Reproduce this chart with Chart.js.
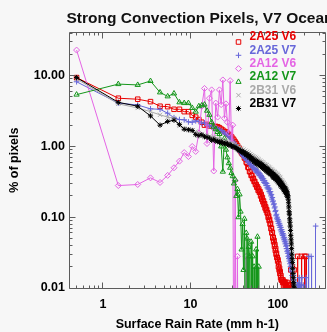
<!DOCTYPE html>
<html>
<head>
<meta charset="utf-8">
<script src="https://cdn.jsdelivr.net/npm/chart.js@4/dist/chart.umd.min.js"></script>
<style>
  html, body { margin: 0; padding: 0; background: #f7f7f7; overflow: hidden; width: 327px; height: 332px; }
  #wrap { position: relative; width: 330px; height: 332px; }
  canvas { display: block; }
</style>
</head>
<body>
<div id="wrap"><canvas id="c" width="330" height="332"></canvas></div>
<script>
// Rain-rate histogram bins, 1 mm/h wide; points sit at the bin centres.
const BIN_WIDTH = 1;
const BIN_COUNT = 272;
const rainRate = Array.from({ length: BIN_COUNT }, (_, i) => (i + 0.5) * BIN_WIDTH);

const xTickValues = [1, 10, 100];
const xTickLabels = ['1', '10', '100'];
const yTickValues = [0.01, 0.1, 1, 10];
const yTickLabels = ['0.01', '0.10', '1.00', '10.00'];

// Percentage of strong-convection pixels per rain-rate bin (0 = no pixels in the bin).
const pct2A25V6 = [
  9.4,4.8,4.65,4.3,3.7,3.65,3.35,3.35,3.1,3.1,
  2.75,2.6,2.4,2.2,2.0,2.05,1.95,1.95,1.9,1.92,
  1.9,1.84,1.76,1.7,1.63,1.6,1.52,1.47,1.43,1.37,
  1.3,1.23,1.16,1.1,1.03,0.97,0.92,0.86,0.81,0.78,
  0.76,0.69,0.67,0.6,0.58,0.51,0.5,0.44,0.44,0.39,
  0.39,0.35,0.355,0.32,0.32,0.29,0.29,0.265,0.27,0.24,
  0.25,0.225,0.23,0.2,0.21,0.18,0.19,0.165,0.17,0.15,
  0.155,0.135,0.14,0.125,0.128,0.115,0.115,0.1,0.104,0.09,
  0.093,0.08,0.082,0.069,0.07,0.06,0.061,0.051,0.052,0.045,
  0.047,0.039,0.041,0.034,0.036,0.03,0.031,0.027,0.027,0.024,
  0.025,0.02,0.022,0.018,0.019,0.016,0.017,0.014,0.015,0.013,
  0.013,0.013,0,0.012,0.013,0.012,0,0.012,0.012,0,
  0.012,0,0.012,0,0.011,0,0,0.012,0,0,
  0.011,0,0,0,0.011,0,0,0,0,0,
  0.018,0,0,0,0,0,0.02,0,0,0,
  0,0,0,0.018,0,0,0,0,0,0,
  0,0,0,0,0,0,0,0,0.028,0,
  0,0,0,0,0,0,0,0,0,0,
  0,0,0,0,0,0.028,0,0,0,0,
  0,0,0,0,0,0,0,0,0,0,
  0,0,0.028,0,0,0,0,0,0,0,
  0.028,0
];

const pct2A25V7 = [
  8.2,4.1,3.85,3.4,3.35,2.95,2.55,2.4,2.38,2.22,
  2.2,2.3,2.25,2.12,2.15,2.02,1.96,1.9,1.86,1.82,
  1.78,1.72,1.68,1.6,1.55,1.5,1.44,1.4,1.32,1.26,
  1.18,1.12,1.06,1.0,0.96,0.9,0.86,0.82,0.78,0.75,
  0.73,0.69,0.68,0.64,0.64,0.6,0.61,0.56,0.57,0.53,
  0.54,0.5,0.51,0.47,0.49,0.45,0.47,0.43,0.45,0.41,
  0.43,0.39,0.41,0.37,0.39,0.35,0.37,0.33,0.35,0.31,
  0.33,0.3,0.31,0.28,0.3,0.26,0.28,0.25,0.26,0.23,
  0.25,0.22,0.23,0.2,0.21,0.18,0.19,0.165,0.17,0.15,
  0.155,0.135,0.14,0.12,0.125,0.105,0.11,0.095,0.1,0.088,
  0.093,0.082,0.088,0.077,0.082,0.072,0.077,0.066,0.072,0.062,
  0.067,0.058,0.063,0.055,0.059,0.051,0.056,0.048,0.052,0.045,
  0.049,0.042,0.046,0.039,0.043,0.036,0.04,0.033,0.036,0.031,
  0.034,0.028,0.031,0.026,0.029,0.024,0.027,0.022,0.025,0.02,
  0.023,0.018,0.021,0.017,0.019,0.015,0.018,0.014,0.016,0.013,
  0.015,0.013,0,0.013,0.012,0,0.012,0.011,0,0.012,
  0.011,0,0.011,0,0,0.011,0,0.011,0,0,
  0,0,0.011,0,0,0.014,0,0,0.011,0,
  0,0,0,0.011,0,0,0,0,0.014,0,
  0,0,0,0,0,0.011,0,0,0,0,
  0,0,0,0,0,0,0,0,0,0,
  0.014,0,0,0,0,0,0,0,0,0,
  0,0,0,0,0,0,0.028,0,0,0,
  0,0,0,0,0,0,0,0,0,0,
  0.028,0,0,0,0,0,0,0,0,0,
  0,0,0,0,0,0,0,0,0,0,
  0,0,0,0,0,0,0,0,0,0,
  0.075,0
];

const pct2A12V6 = [
  23,0.28,0.29,0.36,0.31,0.39,0.5,0.62,0.82,0.72,
  1.0,0.85,1.55,3.7,6.6,1.1,4.8,6.3,0.45,4.1,
  2.6,6.3,3.9,8.7,2.5,4.0,2.2,1.55,8.5,1.13,
  2.0,0,0.33,0,0.028,0,0,0,0,0,
  0,0,0,0.028,0
];

const pct2A12V7 = [
  5.4,7.6,7.4,8.4,5.8,5.1,5.6,4.2,4.1,4.1,
  3.5,3.1,3.7,3.8,3.9,3.2,2.8,2.2,1.9,1.75,
  1.6,1.5,1.0,0.44,1.3,0.9,0.7,0.58,0.5,0.42,
  0.38,0.3,0.34,0.2,0.25,0.1,0.21,0.12,0.035,0.08,
  0.018,0.095,0,0.06,0.05,0,0.038,0.028,0,0.045,
  0,0.028,0,0.02,0,0,0.035,0,0.053,0,
  0.02,0
];

const pct2B31V6 = [
  9.0,4.0,3.5,3.1,2.8,2.6,2.5,1.95,1.8,1.75,
  1.7,1.62,1.55,1.5,1.44,1.42,1.38,1.33,1.35,1.29,
  1.28,1.25,1.22,1.24,1.19,1.17,1.15,1.16,1.11,1.1,
  1.08,1.04,1.06,1.0,1.01,0.96,0.97,0.92,0.93,0.88,
  0.9,0.85,0.87,0.82,0.84,0.79,0.81,0.76,0.78,0.73,
  0.75,0.7,0.73,0.68,0.71,0.66,0.69,0.64,0.67,0.62,
  0.65,0.6,0.63,0.58,0.61,0.56,0.6,0.55,0.58,0.53,
  0.56,0.52,0.55,0.5,0.54,0.49,0.52,0.48,0.51,0.46,
  0.5,0.45,0.48,0.44,0.47,0.43,0.46,0.41,0.45,0.4,
  0.44,0.39,0.43,0.38,0.42,0.37,0.41,0.36,0.4,0.35,
  0.39,0.34,0.38,0.33,0.37,0.32,0.36,0.31,0.34,0.3,
  0.33,0.29,0.32,0.28,0.31,0.27,0.3,0.26,0.29,0.25,
  0.28,0.24,0.27,0.23,0.26,0.22,0.25,0.21,0.23,0.2,
  0.19,0.17,0.16,0.14,0.13,0.12,0.1,0.09,0.08,0.07,
  0.062,0.055,0.048,0.042,0.036,0.031,0.027,0.023,0.02,0.017,
  0.015,0.013,0.012,0.011,0,0.011,0,0.01,0
];

const pct2B31V7 = [
  9.4,4.2,3.7,2.7,2.0,2.25,2.35,2.05,1.75,1.72,
  1.68,1.47,1.42,1.46,1.37,1.35,1.31,1.22,1.26,1.19,
  1.18,1.14,1.17,1.11,1.09,1.12,1.07,1.04,1.06,1.01,
  0.99,1.0,0.96,0.95,0.91,0.9,0.87,0.88,0.83,0.84,
  0.84,0.78,0.81,0.75,0.78,0.72,0.75,0.69,0.72,0.66,
  0.68,0.63,0.66,0.6,0.64,0.58,0.62,0.57,0.61,0.55,
  0.59,0.54,0.58,0.52,0.56,0.51,0.55,0.49,0.53,0.48,
  0.52,0.47,0.5,0.45,0.49,0.44,0.48,0.43,0.47,0.42,
  0.45,0.41,0.44,0.4,0.43,0.39,0.42,0.37,0.41,0.36,
  0.4,0.36,0.39,0.35,0.38,0.34,0.37,0.33,0.36,0.32,
  0.35,0.31,0.34,0.3,0.33,0.29,0.32,0.28,0.31,0.27,
  0.3,0.27,0.29,0.26,0.28,0.25,0.27,0.24,0.26,0.23,
  0.26,0.23,0.25,0.22,0.24,0.21,0.23,0.2,0.22,0.2,
  0.2,0.18,0.16,0.14,0.12,0.11,0.095,0.085,0.075,0.065,
  0.055,0.048,0.042,0.036,0.03,0.026,0.023,0.019,0.016,0.014,
  0.012,0.011,0.01,0,0.01,0
];

const FONT = "'Liberation Sans', Arial, Helvetica, sans-serif";
const AXIS_COLOR = '#5c5c5c';
const BG = '#f7f7f7';
// Empty bins have no finite log value; they are sent below the axis floor so
// the trace drops off the bottom of the plot, as a log plot of zero does.
const ZERO_FLOOR = 1e-4;

const series = [
  { label: '2A25 V6', values: pct2A25V6, color: '#e80000', marker: 'rect',     radius: 3.2, order: 5 },
  { label: '2A25 V7', values: pct2A25V7, color: '#6767d9', marker: 'cross',    radius: 2.8, order: 4 },
  { label: '2A12 V6', values: pct2A12V6, color: '#e464e4', marker: 'rectRot',  radius: 3.0, order: 3 },
  { label: '2A12 V7', values: pct2A12V7, color: '#14961a', marker: 'triangle', radius: 3.0, order: 2 },
  { label: '2B31 V6', values: pct2B31V6, color: '#a9a9a9', marker: 'crossRot', radius: 3.0, order: 1 },
  { label: '2B31 V7', values: pct2B31V7, color: '#000000', marker: 'star',     radius: 2.6, order: 0 }
];

const crisp = v => Math.floor(v) + 0.5;

// Plot frame with IDL-style inward ticks on all four sides.
const framePlugin = {
  id: 'frame',
  beforeDraw(chart) {
    const ctx = chart.ctx;
    ctx.save();
    ctx.fillStyle = BG;
    ctx.fillRect(0, 0, chart.width, chart.height);
    ctx.restore();
  },
  afterDatasetsDraw(chart) {
    const { ctx, chartArea: a, scales: { x, y } } = chart;
    const L = crisp(a.left), R = crisp(a.right), T = crisp(a.top), B = crisp(a.bottom);
    ctx.save();
    ctx.strokeStyle = AXIS_COLOR;
    ctx.lineWidth = 1;
    ctx.beginPath();
    ctx.rect(L, T, R - L, B - T);
    const xMajor = [1, 10, 100];
    const xMinor = [];
    [0.1, 1, 10, 100].forEach(d => { for (let k = 2; k <= 9; k++) xMinor.push(k * d); });
    const yMajor = [0.01, 0.1, 1, 10];
    const yMinor = [];
    [0.01, 0.1, 1, 10].forEach(d => { for (let k = 2; k <= 9; k++) yMinor.push(k * d); });
    const ticksX = (vals, len) => vals.forEach(v => {
      if (v < x.min || v > x.max) return;
      const px = crisp(x.getPixelForValue(v));
      ctx.moveTo(px, B); ctx.lineTo(px, B - len);
      ctx.moveTo(px, T); ctx.lineTo(px, T + len);
    });
    const ticksY = (vals, len) => vals.forEach(v => {
      if (v < y.min || v > y.max) return;
      const py = crisp(y.getPixelForValue(v));
      ctx.moveTo(L, py); ctx.lineTo(L + len, py);
      ctx.moveTo(R, py); ctx.lineTo(R - len, py);
    });
    ticksX(xMajor, 6); ticksX(xMinor, 3);
    ticksY(yMajor, 6); ticksY(yMinor, 3);
    ctx.stroke();
    ctx.restore();
  }
};

// Title and in-plot legend.
const annotatePlugin = {
  id: 'annotate',
  afterDraw(chart) {
    const ctx = chart.ctx;
    ctx.save();
    ctx.fillStyle = '#111';
    ctx.font = `bold 15.5px ${FONT}`;
    ctx.textAlign = 'left';
    ctx.textBaseline = 'alphabetic';
    ctx.fillText('Strong Convection Pixels, V7 Ocean', 66.5, 23.3);

    ctx.font = `bold 12px ${FONT}`;
    ctx.textBaseline = 'middle';
    series.forEach((s, i) => {
      const ty = 37 + 13.3 * i;
      ctx.strokeStyle = s.color;
      ctx.fillStyle = 'rgba(0,0,0,0)';
      ctx.lineWidth = 1;
      Chart.helpers.drawPoint(ctx, { pointStyle: s.marker, radius: s.radius, borderWidth: 1, rotation: 0 }, 238.5, ty + 5);
      ctx.fillStyle = s.color;
      ctx.fillText(s.label, 249.5, ty);
    });
    ctx.restore();
  }
};

const tickFont = { family: FONT, size: 12.5, weight: 'bold' };

new Chart(document.getElementById('c'), {
  type: 'line',
  data: {
    labels: rainRate,
    datasets: series.map(s => ({
      label: s.label,
      data: s.values.map(v => (v > 0 ? v : ZERO_FLOOR)),
      borderColor: s.color,
      backgroundColor: 'rgba(0,0,0,0)',
      borderWidth: 1,
      pointStyle: s.marker,
      pointRadius: ctx => (ctx.raw > ZERO_FLOOR ? s.radius : 0),
      pointBorderWidth: 1,
      pointBorderColor: s.color,
      pointBackgroundColor: 'rgba(0,0,0,0)',
      tension: 0,
      fill: false,
      order: s.order
    }))
  },
  options: {
    responsive: false,
    animation: false,
    devicePixelRatio: 1,
    events: [],
    layout: { padding: { left: 0, right: 2, top: 32.3, bottom: 0 } },
    plugins: {
      legend: { display: false },
      title: { display: false },
      tooltip: { enabled: false }
    },
    scales: {
      x: {
        type: 'logarithmic',
        position: 'bottom',
        min: 0.415,
        max: 346,
        afterFit: s => { s.height = 44; },
        afterBuildTicks: s => { s.ticks = xTickValues.map(v => ({ value: v })); },
        ticks: {
          autoSkip: false, maxRotation: 0, padding: 9.5, color: '#000', font: tickFont,
          callback: (v, i) => xTickLabels[i]
        },
        grid: { display: false, drawTicks: false },
        border: { display: false },
        title: {
          display: true, text: 'Surface Rain Rate (mm h-1)', color: '#000',
          font: tickFont, padding: { top: 0, bottom: 0 }
        }
      },
      y: {
        type: 'logarithmic',
        position: 'left',
        min: 0.01,
        max: 41,
        afterFit: s => { s.width = 69.5; },
        afterBuildTicks: s => { s.ticks = yTickValues.map(v => ({ value: v })); },
        ticks: {
          autoSkip: false, padding: 4.5, color: '#000', font: tickFont,
          callback: (v, i) => yTickLabels[i]
        },
        grid: { display: false, drawTicks: false },
        border: { display: false },
        title: {
          display: true, text: '% of pixels', color: '#000',
          font: tickFont, padding: { top: 7.5, bottom: 0 }
        }
      }
    }
  },
  plugins: [framePlugin, annotatePlugin]
});
</script>
</body>
</html>
